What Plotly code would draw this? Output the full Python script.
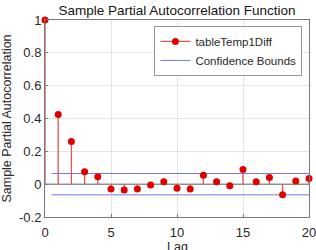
import plotly.graph_objects as go

lags = list(range(21))
pacf = [1.0, 0.425, 0.26, 0.075, 0.045, -0.03, -0.035, -0.03, -0.005, 0.015,
        -0.025, -0.03, 0.055, 0.015, -0.01, 0.09, 0.015, 0.04, -0.065, 0.02, 0.035]
bound = 0.065
bound_x = [0.5, 20]
x_ticks = [0, 5, 10, 15, 20]
y_ticks = [-0.2, 0, 0.2, 0.4, 0.6, 0.8, 1]
y_tick_labels = ["-0.2", "0", "0.2", "0.4", "0.6", "0.8", "1"]

stem_color = "rgb(218,85,85)"
marker_color = "rgb(225,0,0)"
bound_color = "rgb(120,120,225)"
frame_color = "rgb(120,120,120)"

stem_x, stem_y = [], []
for x, v in zip(lags, pacf):
    stem_x += [x, x, None]
    stem_y += [0, v, None]

fig = go.Figure()
fig.add_trace(go.Scatter(x=[0, 20], y=[0, 0], mode="lines",
                         line=dict(color="rgb(100,100,100)", width=1), showlegend=False, hoverinfo="skip"))
fig.add_trace(go.Scatter(x=bound_x, y=[bound, bound], mode="lines",
                         line=dict(color=bound_color, width=1), showlegend=False))
fig.add_trace(go.Scatter(x=bound_x, y=[-bound, -bound], mode="lines",
                         line=dict(color=bound_color, width=1), showlegend=False))
fig.add_trace(go.Scatter(x=stem_x, y=stem_y, mode="lines",
                         line=dict(color=stem_color, width=1.3), showlegend=False))
fig.add_trace(go.Scatter(x=lags, y=pacf, mode="markers",
                         marker=dict(color=marker_color, size=7), showlegend=False, cliponaxis=False))
fig.add_trace(go.Scatter(x=[None], y=[None], mode="lines+markers", name="tableTemp1Diff",
                         line=dict(color=stem_color, width=1.3), marker=dict(color=marker_color, size=7)))
fig.add_trace(go.Scatter(x=[None], y=[None], mode="lines", name="Confidence Bounds",
                         line=dict(color=bound_color, width=1)))

font = "Liberation Sans, Arial, sans-serif"
fig.update_layout(
    width=316, height=250,
    margin=dict(l=45, r=7, t=20, b=33),
    paper_bgcolor="white", plot_bgcolor="white",
    font=dict(family=font, size=12, color="rgb(40,40,40)"),
    title=dict(text="Sample Partial Autocorrelation Function", x=0.5, xref="paper",
               xanchor="center", y=0.96, yanchor="middle", font=dict(size=13.5, color="rgb(20,20,20)")),
    legend=dict(x=0.975, y=0.97, xanchor="right", yanchor="top", bgcolor="white",
                bordercolor="rgb(150,150,150)", borderwidth=1, font=dict(size=11.5),
                tracegroupgap=0, itemwidth=30),
    showlegend=True,
    annotations=[dict(text="Lag", xref="paper", yref="paper", x=0.5, y=-0.105,
                      xanchor="center", yanchor="top", showarrow=False,
                      font=dict(size=12.5, color="rgb(40,40,40)"))],
)
fig.update_xaxes(range=[0, 20], tickvals=x_ticks, showgrid=True, gridcolor="rgb(228,228,228)",
                 zeroline=False, showline=True, linecolor=frame_color, mirror=True,
                 ticks="inside", ticklen=3, tickcolor=frame_color, ticklabelstandoff=3,
                 automargin=False, ticklabeloverflow="allow", tickfont=dict(size=13))
fig.update_yaxes(range=[-0.2, 1], tickvals=y_ticks, ticktext=y_tick_labels, showgrid=True,
                 gridcolor="rgb(228,228,228)", zeroline=False, showline=True,
                 linecolor=frame_color, mirror=True, ticks="inside", ticklen=3,
                 tickcolor=frame_color, automargin=False, ticklabeloverflow="allow",
                 title=dict(text="Sample Partial Autocorrelation", standoff=4, font=dict(size=12.5)),
                 tickfont=dict(size=13))

fig.write_html("out.html")
